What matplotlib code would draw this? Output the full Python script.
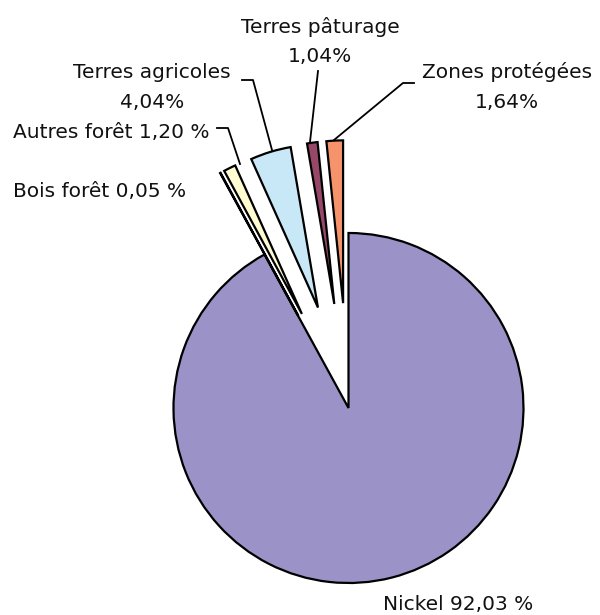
import matplotlib.pyplot as plt

# Land use shares (%)
labels = ['Nickel', 'Bois forêt', 'Autres forêt', 'Terres agricoles',
          'Terres pâturage', 'Zones protégées']
values = [92.03, 0.05, 1.20, 4.04, 1.04, 1.64]
value_text = ['92,03 %', '0,05 %', '1,20 %', '4,04%', '1,04%', '1,64%']
colors = ['#9b93c7', '#ffe9a0', '#fffcd2', '#c8e8f8', '#974868', '#f5936c']
explode_frac = [0, 0.6, 0.6, 0.6, 0.6, 0.6]

W, H = 600, 615
fig = plt.figure(figsize=(6, 6.15), dpi=100)
ax = fig.add_axes([0, 0, 1, 1])

# pie centre / radius in pixel units (y measured from the bottom)
cx, cy, r = 348.5, H - 408, 175
explode = [e * r for e in explode_frac]

wedges, _ = ax.pie(values, colors=colors, explode=explode, startangle=90,
                   counterclock=False, center=(cx, cy), radius=r, frame=True,
                   wedgeprops=dict(edgecolor='black', linewidth=1.6))
# exploded slices are drawn a bit shorter, like in the original chart
for w, e in zip(wedges, explode_frac):
    if e:
        w.set_radius(r * 0.93)

ax.set_xlim(0, W)
ax.set_ylim(0, H)
ax.set_aspect('equal')
ax.axis('off')

font = dict(fontsize=14.5, color='#111111', family='DejaVu Sans', va='baseline')

def y(v):
    return H - v

# labels (baseline positions in image pixels)
ax.text(320, y(33), labels[4], ha='center', **font)
ax.text(320, y(62), value_text[4], ha='center', **font)
ax.text(507, y(78), labels[5], ha='center', **font)
ax.text(507, y(108), value_text[5], ha='center', **font)
ax.text(152, y(78), labels[3], ha='center', **font)
ax.text(152, y(108), value_text[3], ha='center', **font)
ax.text(13, y(138), labels[2] + ' ' + value_text[2], ha='left', **font)
ax.text(13, y(197), labels[1] + ' ' + value_text[1], ha='left', **font)
ax.text(383, y(610), labels[0] + ' ' + value_text[0], ha='left', **font)

# leader lines
lk = dict(color='black', linewidth=1.3)
ax.plot([318, 310], [y(71), y(142)], **lk)
ax.plot([414, 403, 334], [y(83), y(83), y(140)], **lk)
ax.plot([242, 253, 272], [y(80), y(80), y(150)], **lk)
ax.plot([217, 228, 240], [y(128), y(128), y(164)], **lk)

fig.savefig('out.png', dpi=100)
